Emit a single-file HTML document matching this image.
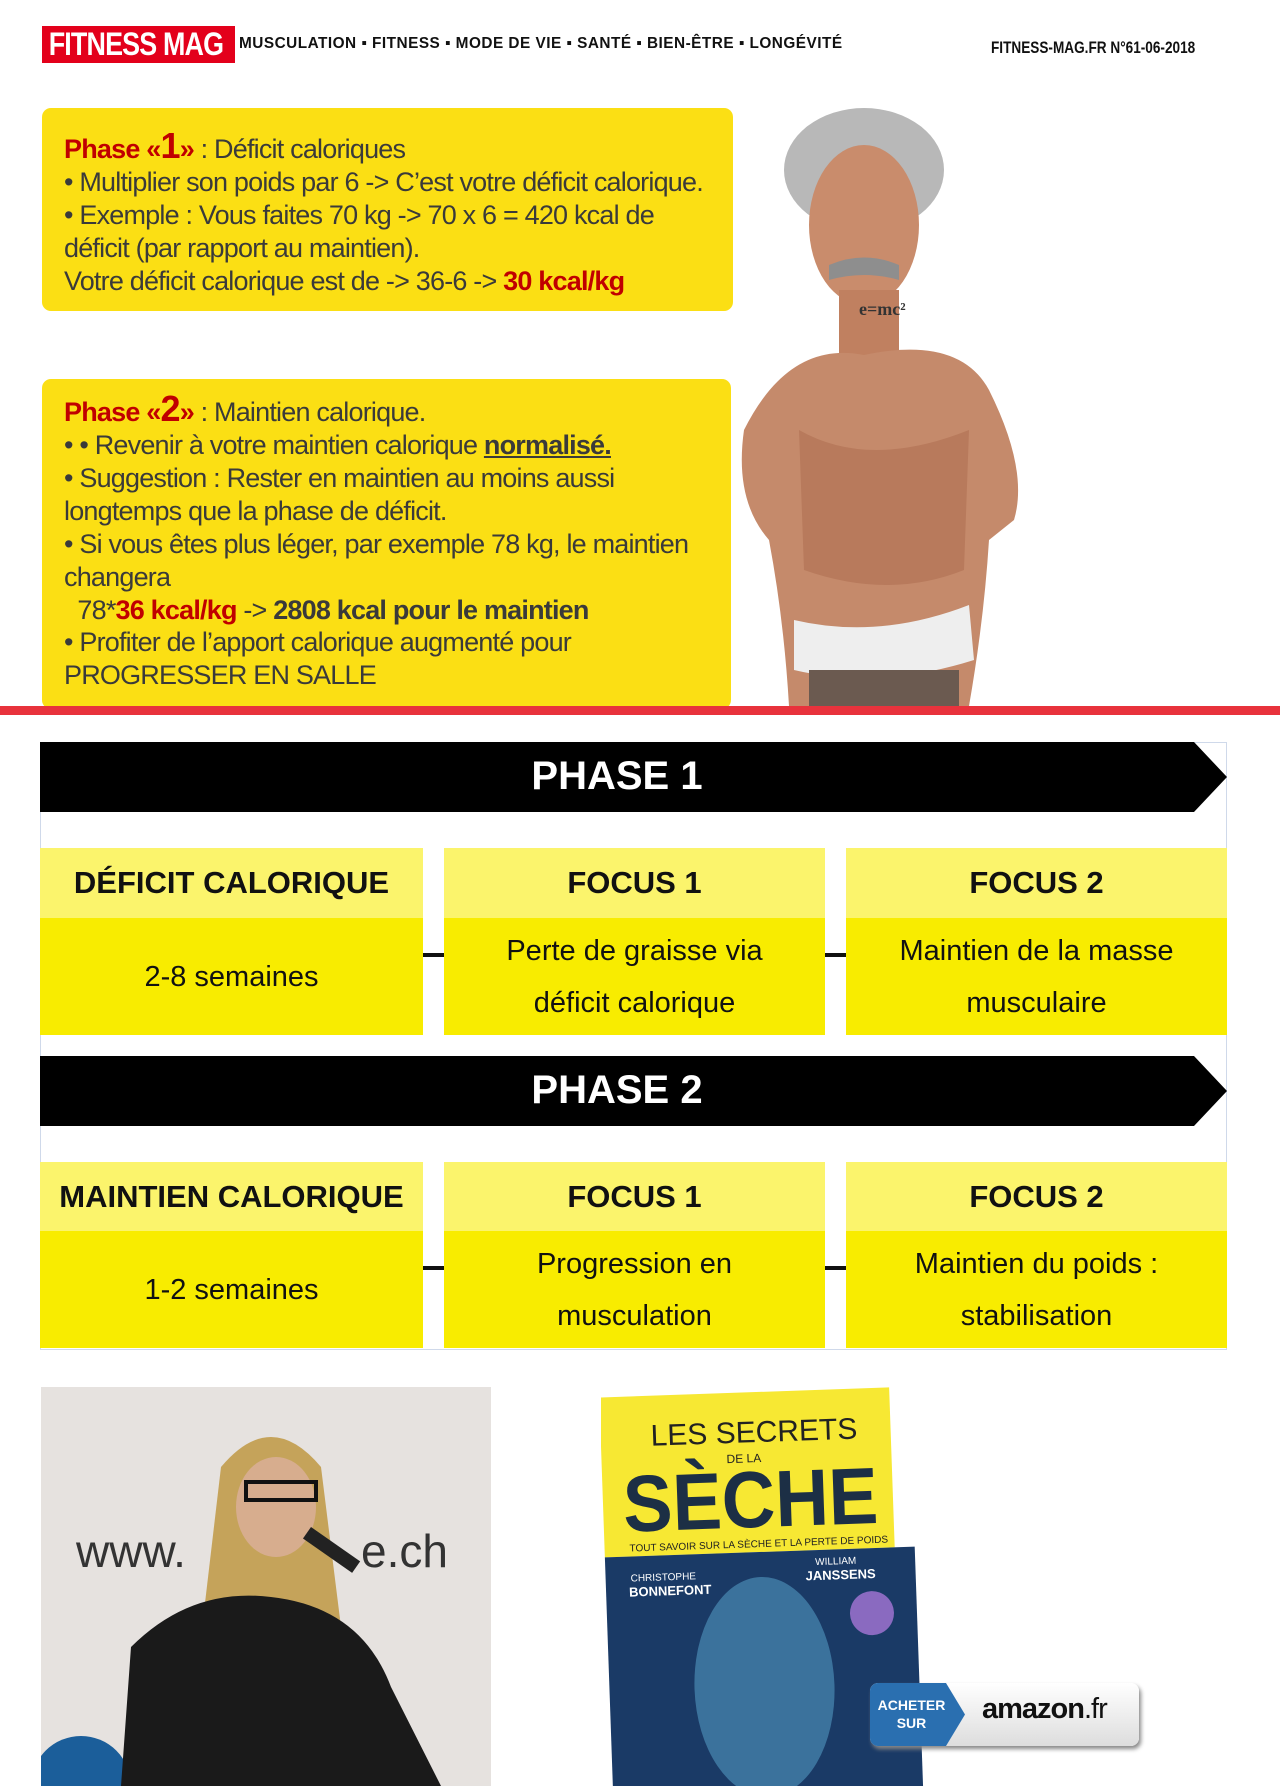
<!DOCTYPE html>
<html><head><meta charset="utf-8"><style>
*{margin:0;padding:0;box-sizing:border-box}
body{width:1280px;height:1786px;background:#fff;position:relative;overflow:hidden;font-family:"Liberation Sans",sans-serif}
.abs{position:absolute}
.box{position:absolute;background:#fbdf14;border-radius:9px}
.t{position:absolute;left:22px;font-size:27px;line-height:32px;color:#3a3a3a;white-space:nowrap;letter-spacing:-0.8px}
.t .big{font-size:36px;line-height:20px}
.r{color:#c00000;font-weight:bold}
.bar{position:absolute;left:40px;width:1187px;height:70px;background:#000;clip-path:polygon(0 0,1154px 0,100% 50%,1154px 100%,0 100%)}
.bar span{position:absolute;left:0;width:1154px;text-align:center;top:12px;color:#fff;font-weight:bold;font-size:40px}
.h{position:absolute;background:#fbf46c;height:70px;text-align:center;font-weight:bold;font-size:31px;line-height:70px;color:#111}
.b{position:absolute;background:#f8ec00;height:117px;display:flex;align-items:center;justify-content:center;text-align:center;font-size:29px;line-height:52px;color:#111}
.dash{position:absolute;width:21px;height:4px;background:#111}
</style></head><body>
<div class="abs" style="left:42px;top:26px;width:193px;height:37px;background:#e3001b;overflow:hidden"><div style="color:#fff;font-weight:bold;font-size:32px;line-height:37px;white-space:nowrap;transform:scaleX(0.84);transform-origin:0 0;padding-left:8px;letter-spacing:-1px">FITNESS MAG</div></div>
<div class="abs" style="left:239px;top:35px;font-size:16px;font-weight:bold;color:#111;letter-spacing:0.5px;white-space:nowrap;transform:scaleX(0.96);transform-origin:0 0">MUSCULATION ▪ FITNESS ▪ MODE DE VIE ▪ SANTÉ ▪ BIEN-ÊTRE ▪ LONGÉVITÉ</div>
<div class="abs" style="left:991px;top:38px;font-size:17px;font-weight:bold;color:#111;white-space:nowrap;transform:scaleX(0.8);transform-origin:0 0">FITNESS-MAG.FR  N°61-06-2018</div>

<div class="box" style="left:42px;top:108px;width:691px;height:203px">
<div class="t" style="top:25px"><span class="r">Phase «<span class="big">1</span>»</span> : Déficit caloriques</div>
<div class="t" style="top:58px">• Multiplier son poids par 6 -&gt; C’est votre déficit calorique.</div>
<div class="t" style="top:91px">• Exemple : Vous faites 70 kg -&gt; 70 x 6 = 420 kcal de</div>
<div class="t" style="top:124px">déficit (par rapport au maintien).</div>
<div class="t" style="top:157px">Votre déficit calorique est de -&gt; 36-6 -&gt; <span class="r">30 kcal/kg</span></div>
</div>

<div class="box" style="left:42px;top:379px;width:689px;height:330px">
<div class="t" style="top:17px"><span class="r">Phase «<span class="big">2</span>»</span> : Maintien calorique.</div>
<div class="t" style="top:50px">• • Revenir à votre maintien calorique <b style="text-decoration:underline">normalisé.</b></div>
<div class="t" style="top:83px">• Suggestion : Rester en maintien au moins aussi</div>
<div class="t" style="top:116px">longtemps que la phase de déficit.</div>
<div class="t" style="top:149px">• Si vous êtes plus léger, par exemple 78 kg, le maintien</div>
<div class="t" style="top:182px">changera</div>
<div class="t" style="top:215px">&nbsp;&nbsp;78*<span class="r">36 kcal/kg</span> -&gt; <b>2808 kcal pour le maintien</b></div>
<div class="t" style="top:247px">• Profiter de l’apport calorique augmenté pour</div>
<div class="t" style="top:280px">PROGRESSER EN SALLE</div>
</div>

<svg class="abs" style="left:729px;top:100px" width="335" height="606">
<ellipse cx="135" cy="70" rx="80" ry="62" fill="#b8b8b8"/>
<ellipse cx="135" cy="125" rx="55" ry="80" fill="#c98c6c"/>
<path d="M100 165 Q135 150 170 165 L170 180 Q135 170 100 180Z" fill="#8e8e8e"/>
<rect x="110" y="190" width="60" height="70" fill="#c08060"/>
<path d="M15 330 Q60 240 135 255 Q230 235 260 290 Q300 370 285 420 L260 440 Q255 520 240 606 L60 606 Q55 520 40 440 Q5 400 15 330Z" fill="#c58a6b"/>
<path d="M70 330 Q140 370 240 330 L235 470 Q160 500 75 470Z" fill="#b87a5c"/>
<path d="M65 520 Q150 540 240 505 L245 560 Q150 590 65 570Z" fill="#eeeeee"/>
<rect x="80" y="570" width="150" height="36" fill="#6b5a50"/>
<text x="130" y="215" font-size="18" font-family="Liberation Serif" fill="#333" font-weight="bold">e=mc²</text>
</svg>

<div class="abs" style="left:0;top:706px;width:1280px;height:9px;background:#e8323c"></div>

<div class="abs" style="left:40px;top:742px;width:1187px;height:608px;border:1px solid #cfd9ea"></div>
<div class="bar" style="top:742px"><span>PHASE 1</span></div>
<div class="h" style="left:40px;top:848px;width:383px">DÉFICIT CALORIQUE</div>
<div class="h" style="left:444px;top:848px;width:381px">FOCUS 1</div>
<div class="h" style="left:846px;top:848px;width:381px">FOCUS 2</div>
<div class="b" style="left:40px;top:918px;width:383px">2-8 semaines</div>
<div class="b" style="left:444px;top:918px;width:381px">Perte de graisse via<br>déficit calorique</div>
<div class="b" style="left:846px;top:918px;width:381px">Maintien de la masse<br>musculaire</div>
<div class="dash" style="left:423px;top:953px"></div><div class="dash" style="left:825px;top:953px"></div>

<div class="bar" style="top:1056px"><span>PHASE 2</span></div>
<div class="h" style="left:40px;top:1162px;width:383px">MAINTIEN CALORIQUE</div>
<div class="h" style="left:444px;top:1162px;width:381px">FOCUS 1</div>
<div class="h" style="left:846px;top:1162px;width:381px">FOCUS 2</div>
<div class="b" style="left:40px;top:1231px;width:383px">1-2 semaines</div>
<div class="b" style="left:444px;top:1231px;width:381px">Progression en<br>musculation</div>
<div class="b" style="left:846px;top:1231px;width:381px">Maintien du poids :<br>stabilisation</div>
<div class="dash" style="left:423px;top:1266px"></div><div class="dash" style="left:825px;top:1266px"></div>

<svg class="abs" style="left:41px;top:1387px" width="450" height="399">
<rect width="450" height="399" fill="#e6e2df"/>
<text x="35" y="180" font-size="46" fill="#333" font-family="Liberation Sans">www.</text>
<text x="320" y="180" font-size="46" fill="#333" font-family="Liberation Sans">e.ch</text>
<circle cx="40" cy="399" r="50" fill="#1b5e9a"/>
<path d="M180 80 Q230 20 280 80 L300 240 L160 250Z" fill="#c5a35a"/>
<ellipse cx="235" cy="120" rx="40" ry="50" fill="#d7ad8e"/>
<rect x="205" y="95" width="70" height="18" fill="none" stroke="#111" stroke-width="4"/>
<path d="M80 399 L90 260 Q150 200 230 210 Q320 220 350 300 L400 399Z" fill="#1a1a1a"/>
<rect x="270" y="140" width="60" height="14" fill="#222" transform="rotate(35 270 140)"/>
</svg>

<svg class="abs" style="left:601px;top:1387px" width="330" height="399">
<g transform="rotate(-2 160 200)">
<rect x="5" y="5" width="290" height="160" fill="#f7e833"/>
<rect x="5" y="165" width="310" height="240" fill="#1a3a66"/>
<ellipse cx="160" cy="300" rx="70" ry="110" fill="#4a8ab3" opacity=".7"/>
<circle cx="270" cy="230" r="22" fill="#8a6ac0"/>
<text x="55" y="55" font-size="30" fill="#222" font-family="Liberation Sans">LES SECRETS</text>
<text x="130" y="75" font-size="12" fill="#222" font-family="Liberation Sans">DE LA</text>
<text x="25" y="140" font-size="80" font-weight="bold" fill="#1c2f45" font-family="Liberation Sans" textLength="255" lengthAdjust="spacingAndGlyphs">SÈCHE</text>
<text x="30" y="160" font-size="10" fill="#222" font-family="Liberation Sans">TOUT SAVOIR SUR LA SÈCHE ET LA PERTE DE POIDS</text>
<text x="30" y="190" font-size="10" fill="#fff" font-family="Liberation Sans">CHRISTOPHE</text>
<text x="28" y="205" font-size="13" font-weight="bold" fill="#fff" font-family="Liberation Sans">BONNEFONT</text>
<text x="215" y="180" font-size="10" fill="#fff" font-family="Liberation Sans">WILLIAM</text>
<text x="205" y="195" font-size="13" font-weight="bold" fill="#fff" font-family="Liberation Sans">JANSSENS</text>
</g></svg>

<div class="abs" style="left:870px;top:1683px;width:269px;height:63px;border-radius:8px;background:linear-gradient(#fff,#ddd);box-shadow:2px 3px 4px #888;overflow:hidden">
<div style="position:absolute;left:0;top:0;width:95px;height:63px;background:#2a6fb0;clip-path:polygon(0 0,80% 0,100% 50%,80% 100%,0 100%);color:#fff;font-weight:bold;font-size:14px;text-align:center;padding:13px 12px 0 0;line-height:18px">ACHETER<br>SUR</div>
<div style="position:absolute;left:112px;top:10px;font-size:29px;font-weight:bold;color:#111;letter-spacing:-1px">amazon<span style="font-weight:normal">.fr</span></div>
</div>
</body></html>
